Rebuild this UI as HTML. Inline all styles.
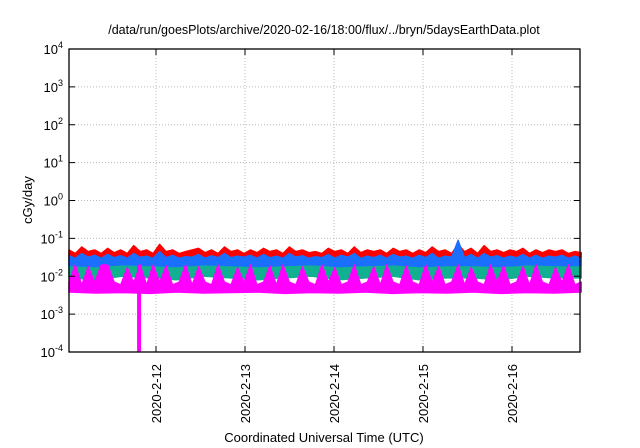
<!DOCTYPE html>
<html><head><meta charset="utf-8"><style>
body{margin:0;background:#fff;}
svg{display:block;font-family:"Liberation Sans",sans-serif;}
</style></head><body>
<svg id="chart" width="640" height="448" viewBox="0 0 640 448">
<text x="324" y="34" font-size="12.5" text-anchor="middle">/data/run/goesPlots/archive/2020-02-16/18:00/flux/../bryn/5daysEarthData.plot</text>
<g id="grid"></g><g id="series"></g><g id="axes"></g>
<text x="0" y="0" font-size="13" text-anchor="middle" transform="translate(32,200) rotate(-90)">cGy/day</text>
<text x="324" y="442" font-size="13" text-anchor="middle">Coordinated Universal Time (UTC)</text>
</svg>
<script>
const xTickDays=[12,13,14,15,16];
const xTickLabels=["2020-2-12","2020-2-13","2020-2-14","2020-2-15","2020-2-16"];
const yTickExps=[-4,-3,-2,-1,0,1,2,3,4];
const tStart=11.02, tEnd=16.78;
const redHi=[.05,.04,.06,.045,.05,.04,.055,.042,.05,.04,.065,.045,.05,.04,.07,.045,.05,.04,.045,.05,.055,.042,.05,.04,.06,.045,.05,.04,.05,.042,.055,.045,.05,.04,.06,.045,.05,.042,.045,.04,.055,.045,.05,.04,.06,.042,.05,.045,.05,.04,.055,.045,.05,.04,.05,.042,.06,.045,.05,.04,.07,.045,.055,.04,.065,.045,.05,.042,.05,.045,.055,.04,.05,.042,.05,.045,.05,.04,.045,.042];
const redLo=[.028,.027,.028,.026,.028,.027,.028,.027,.026,.028,.027,.028,.027,.026,.028,.027,.028,.027,.028,.028];
const tealHi=[.022,.02,.021,.019,.022,.02,.021,.02,.022,.019,.021,.02,.022,.02,.021,.019,.022,.02,.021,.02,.022,.02,.021,.019,.022,.02,.021,.02,.022,.019,.021,.02,.022,.02,.021,.019,.022,.02,.021,.02,.022,.02,.021,.019,.022,.02,.021,.02,.022,.019,.021,.02,.022,.02,.021,.019,.022,.02,.021,.02,.022,.02,.021,.019,.022,.02,.021,.02,.022,.019,.021,.02,.022,.02,.021,.019,.022,.02,.021,.02];
const tealLo=[.009,.008,.01,.009,.008,.01,.009,.008,.009,.01,.008,.009,.01,.008,.009,.009,.008,.01,.009,.009];
const blueHi=[.035,.03,.04,.032,.036,.03,.038,.031,.035,.03,.04,.032,.034,.03,.045,.031,.036,.03,.033,.032,.038,.03,.035,.031,.04,.031,.034,.032,.036,.03,.038,.031,.034,.03,.04,.032,.035,.03,.033,.031,.038,.03,.036,.032,.04,.03,.034,.031,.036,.03,.038,.032,.034,.03,.036,.031,.04,.03,.034,.032,.09,.031,.038,.03,.04,.032,.035,.03,.034,.031,.038,.03,.036,.03,.034,.032,.036,.03,.034,.03];
const blueLo=[.019,.018,.02,.019,.018,.02,.019,.018,.019,.02,.018,.019,.02,.018,.019,.019,.018,.02,.019,.019];
const magHi=[.007,.02,.006,.018,.007,.02,.02,.007,.006,.017,.007,.02,.006,.02,.007,.019,.006,.007,.02,.006,.018,.007,.006,.02,.007,.006,.017,.007,.02,.006,.007,.019,.006,.02,.007,.006,.018,.007,.006,.02,.007,.017,.006,.007,.02,.006,.007,.018,.006,.02,.007,.006,.019,.007,.006,.02,.007,.018,.006,.007,.02,.006,.017,.007,.006,.02,.007,.019,.006,.007,.018,.006,.02,.007,.006,.017,.007,.02,.006,.007];
const magLo=[.0038,.0036,.0037,.0035,.0038,.0036,.0037,.0038,.0035,.0037,.0036,.0038,.0035,.0037,.0036,.0038,.0035,.0037,.0036,.0038];
const dipDay=11.81, dipValue=0.0001, dipTop=0.02;
const X0=69,X1=580,Y0=49,Y1=352;
const pxPerDay=89;
function xs(d){return 156+(d-12)*pxPerDay;}
function ys(v){const e=Math.log10(Math.max(v,1e-4));return Y1-(e+4)*(Y1-Y0)/8;}
function tAt(i,n){return tStart+(tEnd-tStart)*i/(n-1);}
const NS="http://www.w3.org/2000/svg";
function mk(t,a,p){const e=document.createElementNS(NS,t);for(const k in a)e.setAttribute(k,a[k]);p.appendChild(e);return e;}
const grid=document.getElementById('grid'),axes=document.getElementById('axes'),ser=document.getElementById('series');
yTickExps.forEach(e=>{const y=ys(Math.pow(10,e));
 if(e>-4&&e<4){const g=mk('line',{x1:X0,x2:X1,y1:y,y2:y,stroke:'#bbb','stroke-dasharray':'1,2'},grid);
 
 }
 const t1=mk('line',{x1:X0,x2:X0+6,y1:y,y2:y,stroke:'#000'},axes);
 
 
 mk('line',{x1:X1,x2:X1-6,y1:y,y2:y,stroke:'#000'},axes);
 const tx=mk('text',{x:X0-6,y:y+5,'font-size':13,'text-anchor':'end'},axes);
 
 
 tx.innerHTML='10<tspan dy="-6" font-size="9">'+e+'</tspan>';});
xTickDays.forEach((d,i)=>{const x=xs(d);
 const g=mk('line',{x1:x,x2:x,y1:Y0,y2:Y1,stroke:'#bbb','stroke-dasharray':'1,2'},grid);
 
 
 mk('line',{x1:x,x2:x,y1:Y1,y2:Y1-6,stroke:'#000'},axes);
 mk('line',{x1:x,x2:x,y1:Y0,y2:Y0+6,stroke:'#000'},axes);
 const t=mk('text',{x:0,y:0,'font-size':13,'text-anchor':'end',transform:'translate('+(x+5)+','+(Y1+12)+') rotate(-90)'},axes);
 
 
 t.textContent=xTickLabels[i];});
function band(hi,lo,col,name){
 const up=hi.map((v,i)=>xs(tAt(i,hi.length)).toFixed(1)+','+ys(v).toFixed(1));
 const dn=lo.map((v,i)=>xs(tAt(i,lo.length)).toFixed(1)+','+ys(v).toFixed(1)).reverse();
 const p=mk('polygon',{points:up.concat(dn).join(' '),fill:col,stroke:col,'stroke-width':1.2,'stroke-linejoin':'round'},ser);
 
 }
band(redHi,redLo,'#ff0000','series-red');
band(tealHi,tealLo,'#10b090','series-teal');
band(blueHi,blueLo,'#1a6fff','series-blue');
band(magHi,magLo,'#ff00ff','series-magenta');
const dip=mk('rect',{x:xs(dipDay)-2,y:ys(dipTop),width:4,height:ys(dipValue)-ys(dipTop),fill:'#ff00ff'},ser);


const fr=mk('rect',{x:X0,y:Y0,width:X1-X0,height:Y1-Y0,fill:'none',stroke:'#000','stroke-width':1.3},axes);


</script>
</body></html>
